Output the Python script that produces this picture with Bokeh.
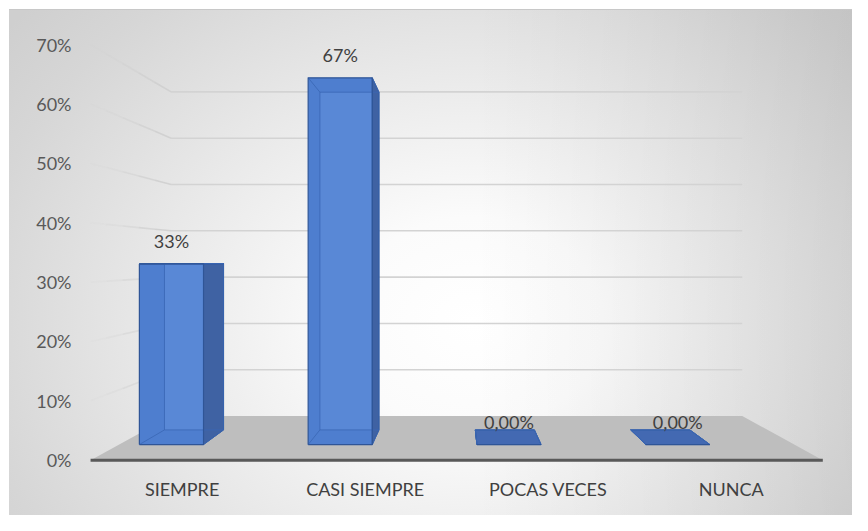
import numpy as np
from bokeh.plotting import figure
from bokeh.models import Range1d, LinearAxis, FixedTicker
from bokeh.embed import file_html
from bokeh.resources import INLINE
from bokeh.core.properties import value

# ---------------- data ----------------
categories = ["SIEMPRE", "CASI SIEMPRE", "POCAS VECES", "NUNCA"]
percentages = [33, 67, 0, 0]
value_labels = ["33%", "67%", "0,00%", "0,00%"]
y_ticks = [0, 10, 20, 30, 40, 50, 60, 70]
y_tick_labels = ["0%", "10%", "20%", "30%", "40%", "50%", "60%", "70%"]

# ---------------- perspective style ----------------
n = len(categories)
XV = (n - 1) / 2.0      # vanishing x (data units)
YH = 33.8               # horizon height (axis units)
S_FLOOR_BACK = 0.78
S_BAR_FRONT = 0.922
S_BAR_BACK = 0.849
BAR_SHIFT = -0.19
BAR_W = 0.38

FONT = "Lato"
FRONT = "#4e7ecf"
BACKTINT = "#6290dc"
SIDE = "#3f62a3"
TOP = "#4369b2"
EDGE = "#2f5597"


def proj(x, v, s):
    x = np.asarray(x, dtype=float)
    v = np.asarray(v, dtype=float)
    return (XV + s * (x - XV)).tolist(), (YH + s * (v - YH)).tolist()


p = figure(width=852, height=515,
           x_range=Range1d(-0.5222, 3.6622), y_range=Range1d(-2.24, 77.43),
           output_backend="svg", toolbar_location=None,
           x_axis_location=None, y_axis_location=None,
           min_border_left=86, min_border_right=0, min_border_top=0, min_border_bottom=42)
p.xgrid.visible = False
p.ygrid.visible = False
p.outline_line_color = None
p.background_fill_color = None
p.border_fill_color = None
p.styles = {
    "background-color": "#ffffff",
    "background-image": ", ".join([
        "linear-gradient(#c8c8c8, #c8c8c8)",
        "linear-gradient(to right, rgba(0,0,0,0) 55%, rgba(0,0,0,0.07) 100%)",
        "radial-gradient(ellipse 70% 95% at 55% 62%, #ffffff 0%, #fbfbfb 22%, #e8e8e8 55%, #d6d6d6 85%, #cfcfcf 100%)",
    ]),
    "background-position": "9px 9px, 9px 10px, 9px 10px",
    "background-size": "843px 1px, 843px 505px, 843px 505px",
    "background-repeat": "no-repeat",
}

xl, xr = -0.5, n - 0.5

# back wall gridlines
gx, gy = [], []
for t in y_ticks[1:]:
    a, b = proj([xl, xr], [t, t], S_FLOOR_BACK)
    gx.append(a); gy.append(b)
p.multi_line(gx, gy, line_color="#d3d3d3", line_width=1.6)

# side wall gridlines (fading toward the front)
steps = np.linspace(S_FLOOR_BACK, 1.0, 6)
alphas = [0.9, 0.7, 0.45, 0.25, 0.1]
for k in range(5):
    sx, sy = [], []
    for t in y_ticks[1:]:
        a0, b0 = proj([xl], [t], steps[k])
        a1, b1 = proj([xl], [t], steps[k + 1])
        sx.append([a0[0], a1[0]]); sy.append([b0[0], b1[0]])
    p.multi_line(sx, sy, line_color="#cfcfcf", line_width=1.6, line_alpha=alphas[k])

# floor
fx1, fy1 = proj([xl, xr], [0, 0], 1.0)
fx2, fy2 = proj([xr, xl], [0, 0], S_FLOOR_BACK)
p.patch(fx1 + fx2, fy1 + fy2, fill_color="#bebebe", line_color=None)

# axis line (front edge of floor)
p.line(fx1, fy1, line_color="#595959", line_width=3)

# bars
for i, v in enumerate(percentages):
    c = i + BAR_SHIFT
    x0, x1 = c - BAR_W / 2, c + BAR_W / 2
    fxs, fys = proj([x0, x1, x1, x0], [0, 0, v, v], S_BAR_FRONT)
    bxs, bys = proj([x0, x1, x1, x0], [0, 0, v, v], S_BAR_BACK)
    p.patch(fxs, fys, fill_color=FRONT, line_color=None)
    p.patch(bxs, bys, fill_color=BACKTINT, fill_alpha=0.55, line_color=None)
    sidex = x1 if x1 < XV else x0
    sxs_f, sys_f = proj([sidex, sidex], [0, v], S_BAR_FRONT)
    sxs_b, sys_b = proj([sidex, sidex], [v, 0], S_BAR_BACK)
    p.patch(sxs_f + sxs_b, sys_f + sys_b, fill_color=SIDE, line_color=EDGE, line_width=1)
    if v < YH:
        txf, tyf = proj([x0, x1], [v, v], S_BAR_FRONT)
        txb, tyb = proj([x1, x0], [v, v], S_BAR_BACK)
        p.patch(txf + txb, tyf + tyb, fill_color=TOP, line_color=EDGE, line_width=1)
    ex, ey = [], []
    ex.append(bxs + [bxs[0]]); ey.append(bys + [bys[0]])
    for xx, vv in [(x0, 0), (x0, v), (x1, 0), (x1, v)]:
        a0, b0 = proj([xx], [vv], S_BAR_FRONT)
        a1, b1 = proj([xx], [vv], S_BAR_BACK)
        ex.append([a0[0], a1[0]]); ey.append([b0[0], b1[0]])
    p.multi_line(ex, ey, line_color="#3a66b4", line_alpha=0.8, line_width=1)
    p.line(fxs + [fxs[0]], fys + [fys[0]], line_color=EDGE, line_width=1.2)

# data labels
lx, ly = proj([i + BAR_SHIFT for i in range(n)], percentages, S_BAR_FRONT)
p.text(lx, ly, text=value_labels, text_align="center", text_baseline="middle",
       y_offset=-23, text_font=value(FONT), text_font_size="18px", text_color="#404040")

# axes
yaxis = LinearAxis(ticker=FixedTicker(ticks=y_ticks),
                   major_label_overrides={t: l for t, l in zip(y_ticks, y_tick_labels)})
yaxis.axis_line_color = None
yaxis.major_tick_line_color = None
yaxis.minor_tick_line_color = None
yaxis.major_tick_out = 0
yaxis.major_tick_in = 0
yaxis.major_label_standoff = 15
yaxis.major_label_text_font = FONT
yaxis.major_label_text_font_size = "18px"
yaxis.major_label_text_color = "#595959"
p.add_layout(yaxis, "left")

xaxis = LinearAxis(ticker=FixedTicker(ticks=list(range(n))),
                   major_label_overrides={i: c for i, c in enumerate(categories)})
xaxis.axis_line_color = None
xaxis.major_tick_line_color = None
xaxis.minor_tick_line_color = None
xaxis.major_tick_out = 0
xaxis.major_tick_in = 0
xaxis.major_label_standoff = 4
xaxis.major_label_text_font = FONT
xaxis.major_label_text_font_size = "18px"
xaxis.major_label_text_color = "#404040"
p.add_layout(xaxis, "below")

open("out.html", "w").write(file_html(p, INLINE))
